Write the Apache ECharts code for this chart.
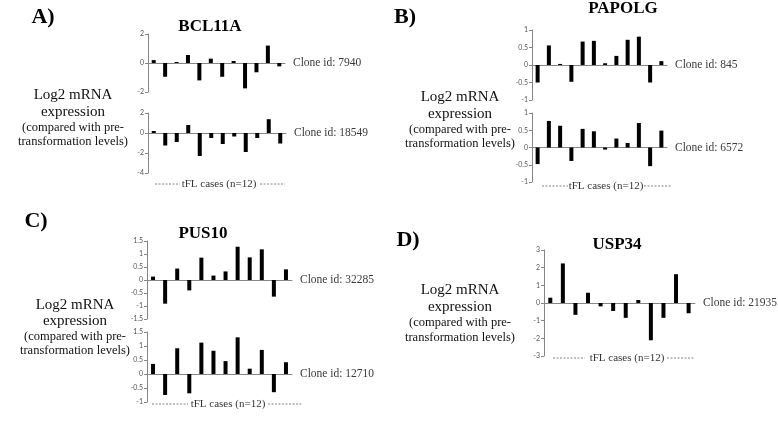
<!DOCTYPE html>
<html><head><meta charset="utf-8">
<script src="https://cdn.jsdelivr.net/npm/echarts@6/dist/echarts.min.js"></script>
<style>html,body{margin:0;padding:0;background:#fff}#c{width:778px;height:422px}</style>
</head><body><div id="c"></div>
<script>
// ---- data ----
const cases = ['1','2','3','4','5','6','7','8','9','10','11','12'];
const bcl11a_7940  = [0.2, -0.95, 0.07, 0.55, -1.2, 0.3, -0.95, 0.14, -1.75, -0.64, 1.2, -0.23];
const bcl11a_18549 = [0.2, -1.25, -0.9, 0.8, -2.3, -0.5, -1.1, -0.35, -1.9, -0.5, 1.38, -1.05];
const papolg_845   = [-0.5, 0.56, 0.03, -0.48, 0.67, 0.69, 0.05, 0.26, 0.72, 0.81, -0.5, 0.11];
const papolg_6572  = [-0.48, 0.77, 0.63, -0.39, 0.54, 0.47, -0.06, 0.26, 0.13, 0.71, -0.54, 0.49];
const pus10_32285  = [0.13, -0.91, 0.44, -0.4, 0.86, 0.17, 0.33, 1.28, 0.87, 1.18, -0.64, 0.41];
const pus10_12710  = [0.36, -0.75, 0.92, -0.69, 1.12, 0.83, 0.46, 1.31, 0.19, 0.86, -0.65, 0.42];
const usp34_21935  = [0.3, 2.24, -0.67, 0.58, -0.19, -0.45, -0.84, 0.17, -2.11, -0.84, 1.63, -0.58];
const cloneIds = ['Clone id: 7940','Clone id: 18549','Clone id: 845','Clone id: 6572','Clone id: 32285','Clone id: 12710','Clone id: 21935'];
const yTicks = [[-2,2,2],[-4,2,2],[-1,1,0.5],[-1,1,0.5],[-1.5,1.5,0.5],[-1,1.5,0.5],[-3,3,1]]; // min,max,interval
const geneTitles = ['BCL11A','PAPOLG','PUS10','USP34'];
const panelLetters = ['A)','B)','C)','D)'];
const yLabelLines = ['Log2 mRNA','expression','(compared with pre-','transformation levels)'];
const xLabel = 'tFL cases (n=12)';

// ---- layout ----
const seriesData = [bcl11a_7940, bcl11a_18549, papolg_845, papolg_6572, pus10_32285, pus10_12710, usp34_21935];
const rects = [
  {left:148, top:34, width:137, height:58},
  {left:148, top:113, width:138, height:60},
  {left:532, top:30, width:135, height:70},
  {left:532, top:113, width:135, height:69},
  {left:147, top:241, width:145, height:78},
  {left:147, top:332, width:145, height:70},
  {left:544, top:250, width:151, height:106}
];
const SERIF = '"Liberation Serif", "Times New Roman", serif';

const grid = [], xAxis = [], yAxis = [], series = [];
seriesData.forEach((d, i) => {
  const r = rects[i];
  grid.push({left:r.left, top:r.top, width:r.width, height:r.height, containLabel:false});
  xAxis.push({
    type:'category', gridIndex:i, data:cases,
    axisLine:{show:true, onZero:true, lineStyle:{color:'#868686', width:1}},
    axisTick:{show:false}, axisLabel:{show:false}, splitLine:{show:false},
    name: cloneIds[i], nameLocation:'end', nameGap:8,
    nameTextStyle:{fontFamily:SERIF, fontSize:11.5, color:'#3a3a3a', align:'left', verticalAlign:'middle'}
  });
  yAxis.push({
    type:'value', gridIndex:i, min:yTicks[i][0], max:yTicks[i][1], interval:yTicks[i][2],
    axisLine:{show:true, lineStyle:{color:'#868686', width:1}},
    axisTick:{show:true, length:3, lineStyle:{color:'#868686'}},
    axisLabel:{fontSize:7, color:'#555', margin:4, fontFamily:'Lato, "Liberation Sans", sans-serif'},
    splitLine:{show:false}
  });
  series.push({type:'bar', xAxisIndex:i, yAxisIndex:i, data:d, barWidth:4, itemStyle:{color:'#000'}, animation:false});
});

const graphic = [];
function txt(text, x, y, size, bold, color){
  graphic.push({type:'text', x:x, y:y, style:{text:text, fill:color||'#000', textAlign:'center', textVerticalAlign:'middle',
    font:(bold?'bold ':'') + size + 'px ' + SERIF}});
}
// panel letters and gene titles
const letterPos = [[43,17],[405,17],[36,221],[408,240]];
const titlePos = [[210,27],[623,9],[203,234],[617,245]];
for (let k=0;k<4;k++){
  txt(panelLetters[k], letterPos[k][0], letterPos[k][1], 22, true);
  txt(geneTitles[k], titlePos[k][0], titlePos[k][1], 17, true);
}
// y labels
const ylPos = [[73,[95,112,128,142]],[460,[97,114,130,144]],[75,[305,321,337,351]],[460,[290,307,323,338]]];
ylPos.forEach(p => {
  yLabelLines.forEach((t, j) => txt(t, p[0], p[1][j], j<2?15:12.5, false, '#111'));
});
// x labels with dashed lines
const xlPos = [[219,184,155,180,260,285],[606,186,542,568,644,672],[228,404,152,188,268,302],[627,358,553,585,667,695]];
xlPos.forEach(p => {
  txt(xLabel, p[0], p[1], 11, false, '#333');
  [[p[2],p[3]],[p[4],p[5]]].forEach(s => graphic.push({type:'line', shape:{x1:s[0], y1:p[1], x2:s[1], y2:p[1]},
    style:{stroke:'#666', lineWidth:0.8, lineDash:[2,1.5]}}));
});

const chart = echarts.init(document.getElementById('c'), null, {renderer:'canvas'});
chart.setOption({animation:false, backgroundColor:'#fff', grid, xAxis, yAxis, series, graphic});
</script></body></html>
